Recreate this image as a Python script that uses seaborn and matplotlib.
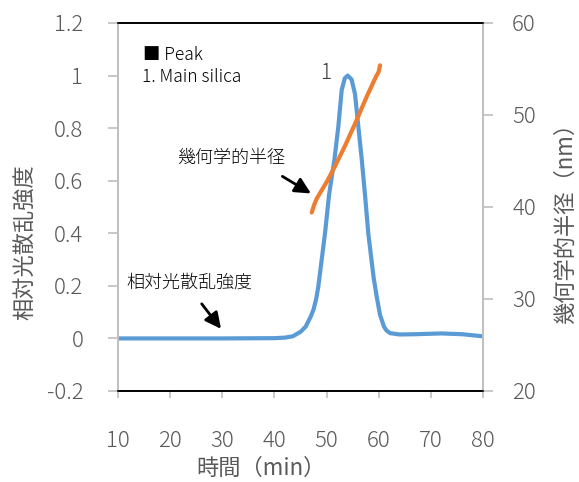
import pandas as pd
import matplotlib
matplotlib.use("Agg")
import matplotlib.pyplot as plt
import seaborn as sns

# relative light scattering intensity (left axis)
time_ls = [10, 20, 30, 40, 42, 43.5, 45, 46, 46.5, 47, 47.5, 48, 48.4, 48.75, 49.7,
           50.5, 51.5, 52.25, 52.9, 53.5, 54.05, 54.8, 55.45, 56.1, 56.75, 57.4,
           58.0, 59.0, 59.6, 60.25, 61.0, 61.5, 62.2, 64, 67, 72, 76, 80]
intensity = [0, 0, 0, 0.001, 0.003, 0.008, 0.025, 0.045, 0.065, 0.085, 0.11, 0.15,
             0.195, 0.25, 0.40, 0.55, 0.68, 0.805, 0.945, 0.99, 1.0, 0.985, 0.93,
             0.805, 0.68, 0.54, 0.40, 0.235, 0.16, 0.09, 0.045, 0.03, 0.02, 0.015,
             0.016, 0.019, 0.016, 0.008]

# geometric radius (right axis, nm)
time_rg = [47.15, 47.6, 48.1, 49.1, 50.0, 51.5, 53.5, 55.5, 57.7, 59.5, 60.0, 60.25]
radius = [39.4, 40.2, 40.9, 41.85, 42.7, 44.3, 46.6, 49.1, 52.0, 54.2, 54.7, 55.4]

x_ticks = [10, 20, 30, 40, 50, 60, 70, 80]
y_ticks = [-0.2, 0, 0.2, 0.4, 0.6, 0.8, 1, 1.2]
y_ticklabels = ["-0.2", "0", "0.2", "0.4", "0.6", "0.8", "1", "1.2"]
y2_ticks = [20, 30, 40, 50, 60]

sns.set_style("ticks")
plt.rcParams['font.family'] = ['Noto Sans CJK JP', 'DejaVu Sans']
plt.rcParams['font.weight'] = 'light'

gray = "#595959"
spine_gray = "#bfbfbf"
blue = "#5b9bd5"
orange = "#ed7d31"

df_ls = pd.DataFrame({"time": time_ls, "intensity": intensity})
df_rg = pd.DataFrame({"time": time_rg, "radius": radius})

fig = plt.figure(figsize=(5.79, 4.82), dpi=100)
ax = fig.add_axes([0.2038, 0.1888, 0.6304, 0.7635])
ax2 = ax.twinx()

sns.lineplot(data=df_ls, x="time", y="intensity", ax=ax, color=blue, linewidth=3)
sns.lineplot(data=df_rg, x="time", y="radius", ax=ax2, color=orange, linewidth=3)

ax.set_xlim(10, 80)
ax.set_ylim(-0.2, 1.2)
ax2.set_ylim(20, 60)
ax.set_xticks(x_ticks)
ax.set_yticks(y_ticks)
ax.set_yticklabels(y_ticklabels)
ax2.set_yticks(y2_ticks)

for a in (ax, ax2):
    for s in a.spines.values():
        s.set_linewidth(1.2)
    a.spines['top'].set_color("black")
    a.spines['bottom'].set_color("black")
    a.spines['left'].set_color(spine_gray)
    a.spines['right'].set_color(spine_gray)

ax.tick_params(axis='y', direction='out', length=7, width=1.2, color=spine_gray,
               labelcolor=gray, labelsize=16, pad=18)
ax.tick_params(axis='x', direction='out', length=5, width=1.2, color=spine_gray,
               labelcolor=gray, labelsize=16, pad=23)
ax2.tick_params(axis='y', direction='out', length=7, width=1.2, color=spine_gray,
                labelcolor=gray, labelsize=16, pad=14)

ax.set_xlabel("時間（min）", color=gray, fontsize=16, va='center')
ax.xaxis.set_label_coords(0.392, -0.209)
ax.set_ylabel("相対光散乱強度", color=gray, fontsize=16, va='center')
ax.yaxis.set_label_coords(-0.255, 0.405)
ax2.set_ylabel("幾何学的半径（nm）", color=gray, fontsize=16, va='center', rotation=90)
ax2.yaxis.set_label_coords(1.225, 0.469)

# legend-like text
ax.text(14.8, 1.078, "■ Peak", fontsize=12.5, color="black", va='center', ha='left')
ax.text(14.6, 0.994, "1. Main silica", fontsize=12.5, color="black", va='center', ha='left')
ax.text(49.9, 1.01, "1", fontsize=15, color="#404040", va='center', ha='center')

# annotations
ax.annotate("", xy=(30.08, 0.028), xytext=(25.73, 0.14),
            arrowprops=dict(arrowstyle="-|>", color="black", lw=2, mutation_scale=24))
ax.text(11.53, 0.211, "相対光散乱強度", fontsize=13, color="black", va='center', ha='left')
ax.annotate("", xy=(47.46, 0.546), xytext=(41.07, 0.622),
            arrowprops=dict(arrowstyle="-|>", color="black", lw=2, mutation_scale=24))
ax.text(21.3, 0.686, "幾何学的半径", fontsize=13, color="black", va='center', ha='left')

fig.savefig("out.png", dpi=100)
